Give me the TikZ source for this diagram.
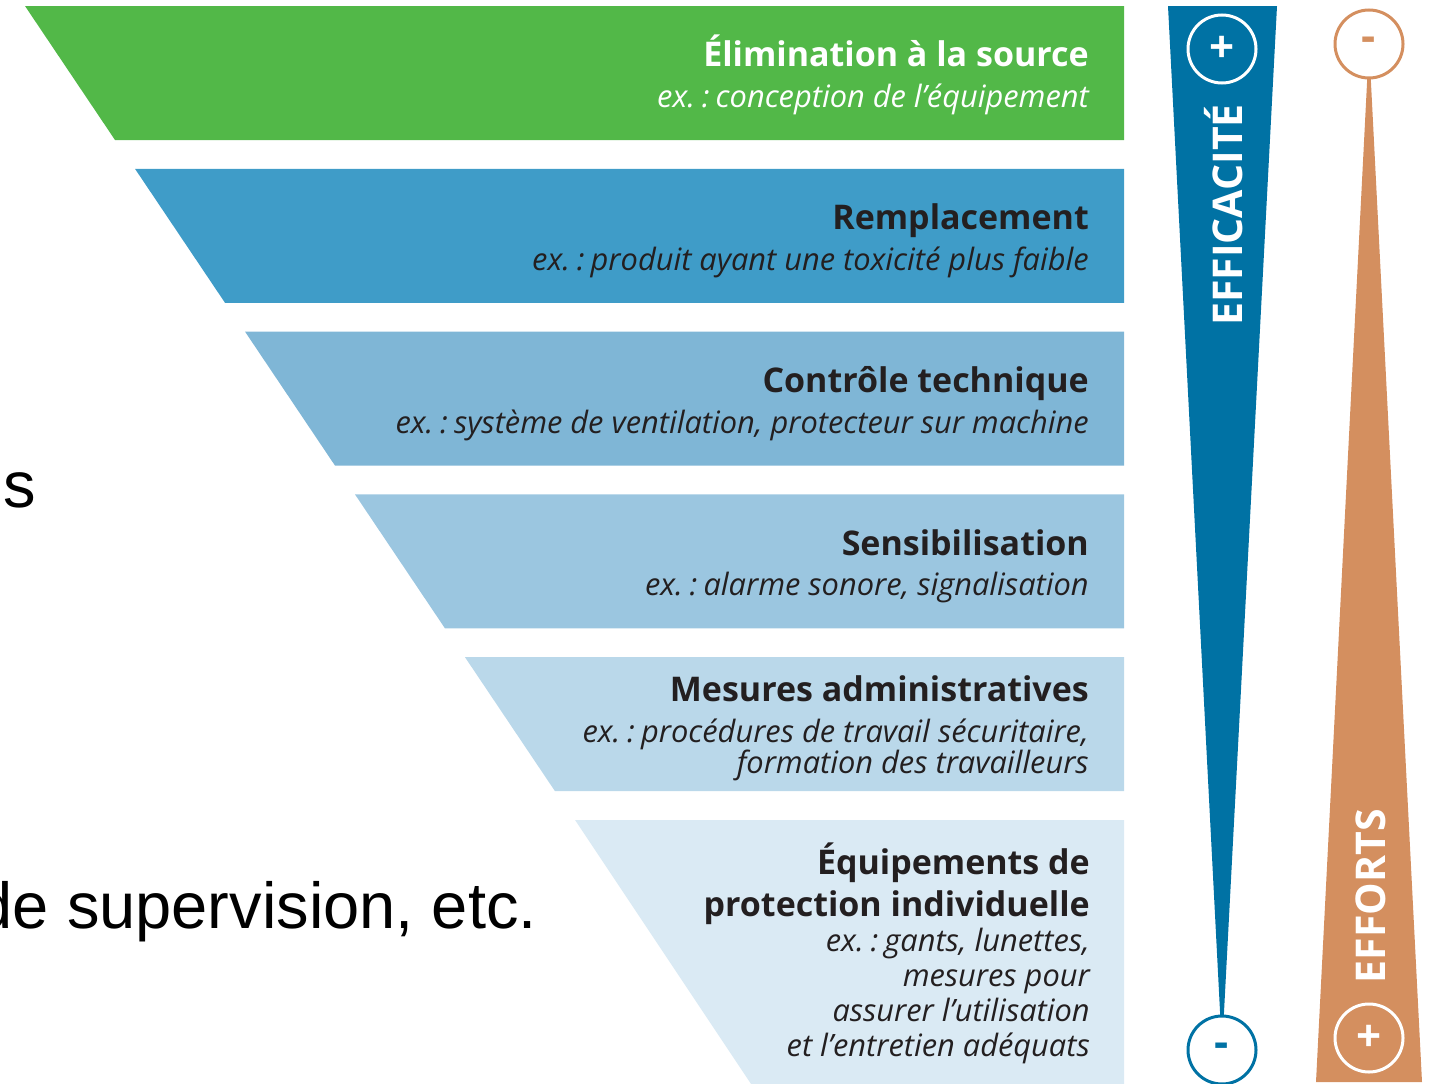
\documentclass[tikz,border=0pt]{standalone}
\usepackage{fontspec}
\setmainfont{Open Sans}
\newfontfamily\slidefont{Liberation Sans}
\usetikzlibrary{calc}
\definecolor{bandA}{RGB}{82,184,72}
\definecolor{bandB}{RGB}{63,156,200}
\definecolor{bandC}{RGB}{127,182,214}
\definecolor{bandD}{RGB}{155,198,224}
\definecolor{bandE}{RGB}{186,216,234}
\definecolor{bandF}{RGB}{218,234,244}
\definecolor{effblue}{RGB}{0,114,164}
\definecolor{effort}{RGB}{212,143,95}
\definecolor{darktext}{RGB}{35,31,32}
\newcommand{\exlabel}{ex.\hspace{0.22em}:\hspace{0.2em}}

\tikzset{
  title/.style={anchor=base east,inner sep=0pt,text=darktext,
    font=\bfseries\fontsize{34}{40}\selectfont},
  example/.style={anchor=base east,inner sep=0pt,text=darktext,
    font=\itshape\fontsize{30.8}{34}\selectfont},
  sign/.style={circle,minimum size=68pt,line width=3pt,inner sep=0pt,
    font=\bfseries\fontsize{44}{44}\selectfont},
  axislabel/.style={rotate=90,text=white,inner sep=0pt,
    font=\bfseries\fontsize{41}{41}\selectfont},
  slide/.style={anchor=base east,inner sep=0pt,
    font=\slidefont\fontsize{65}{78}\selectfont}
}

\begin{document}
\begin{tikzpicture}[x=1pt,y=-1pt]
\useasboundingbox (0,0) rectangle (1430,1084);
\foreach \n/\col in {0/bandA,1/bandB,2/bandC,3/bandD,4/bandE}
  \fill[\col] ({25+110*\n},{6+162.8*\n}) -- (1124,{6+162.8*\n})
    -- (1124,{140+162.8*\n}) -- ({115+110*\n},{140+162.8*\n}) -- cycle;
\fill[bandF] (575,820) -- (1124,820) -- (1124,1084) -- (751,1084) -- cycle;

\node[title,text=white] (elim) at (1089,66) {Élimination à la source};
\node[example,text=white] (elimex) at (1089,107) {\exlabel conception de l’équipement};
\node[title] (rempl) at (1089,229) {Remplacement};
\node[example] (remplex) at (1089,270) {\exlabel produit ayant une toxicité plus faible};
\node[title] (ctrl) at (1089,392) {Contrôle technique};
\node[example] (ctrlex) at (1089,433) {\exlabel système de ventilation, protecteur sur machine};
\node[title] (sensib) at (1089,555) {Sensibilisation};
\node[example] (sensibex) at (1089,595) {\exlabel alarme sonore, signalisation};
\node[title] (admin) at (1089,701) {Mesures administratives};
\node[example] (adminex1) at (1089,742) {\exlabel procédures de travail sécuritaire,};
\node[example] (adminex2) at (1089,773) {formation des travailleurs};
\node[title] (epi1) at (1090,874) {Équipements de};
\node[title] (epi2) at (1090,916) {protection individuelle};
\node[example] (epiex1) at (1090,951) {\exlabel gants, lunettes,};
\node[example] (epiex2) at (1090,986) {mesures pour};
\node[example] (epiex3) at (1090,1021) {assurer l’utilisation};
\node[example] (epiex4) at (1090,1056) {et l’entretien adéquats};

\fill[effblue] (1168,6) -- (1277,6) -- (1222,1050) -- cycle;
\node[sign,draw=white,text=white] (effplus) at (1222,49) {+};
\node[sign,draw=effblue,fill=white,text=effblue] (effminus) at (1222,1050) {-};
\node[axislabel] (eff) at (1224,215) {EFFICACITÉ};

\fill[effort] (1369,44) -- (1422,1082) -- (1316,1082) -- cycle;
\node[sign,draw=effort,fill=white,text=effort] (effortminus) at (1369,44) {-};
\node[sign,draw=white,text=white] (effortplus) at (1369,1038) {+};
\node[axislabel] (efforts) at (1371,896) {EFFORTS};

\node[slide] (frag1) at (36,507) {s};
\node[slide] (frag2) at (537,928) {de supervision, etc.};
\end{tikzpicture}
\end{document}
